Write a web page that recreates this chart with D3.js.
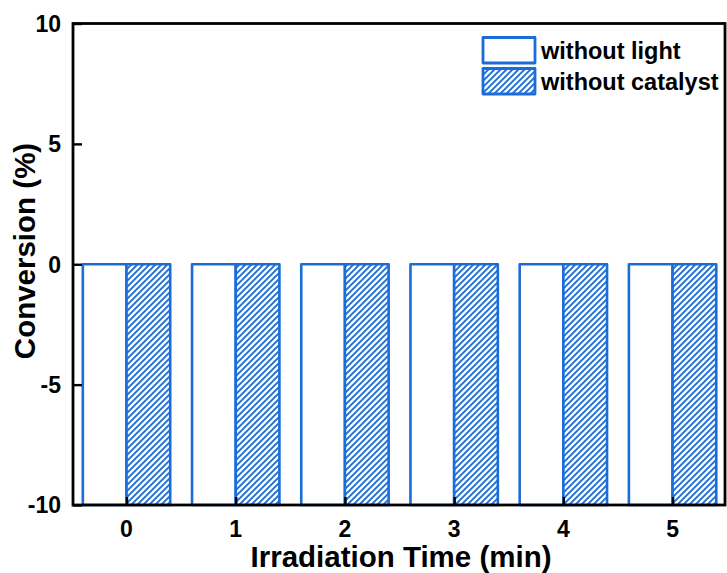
<!DOCTYPE html>
<html>
<head>
<meta charset="utf-8">
<script src="https://cdn.jsdelivr.net/npm/d3@7/dist/d3.min.js"></script>
<style>
  html, body { margin: 0; padding: 0; background: #fff; }
  svg { display: block; }
  text { font-family: "Liberation Sans", Arial, sans-serif; font-weight: bold; fill: #000; }
</style>
</head>
<body>
<svg id="chart" width="727" height="573"></svg>
<script>
// Irradiation times (min) and conversion (%) for the two control experiments
const times = [0, 1, 2, 3, 4, 5];
const withoutLight = [0, 0, 0, 0, 0, 0];
const withoutCatalyst = [0, 0, 0, 0, 0, 0];
const seriesNames = ["without light", "without catalyst"];
const yTicks = [-10, -5, 0, 5, 10];

const blue = "#1c6cd8";
const svg = d3.select("#chart");
const plot = { left: 73, right: 725, top: 23.5, bottom: 505 };

const x = d3.scaleLinear().domain([-0.49, 5.48]).range([plot.left, plot.right]);
const y = d3.scaleLinear().domain([-10, 10]).range([plot.bottom, plot.top]);
const barW = 0.4; // bar width in category units

// diagonal hatch fill
const defs = svg.append("defs");
const pat = defs.append("pattern")
  .attr("id", "hatch")
  .attr("patternUnits", "userSpaceOnUse")
  .attr("width", 6).attr("height", 6);
pat.append("rect").attr("width", 6).attr("height", 6).attr("fill", "#fff");
pat.append("path")
  .attr("d", "M-1.5,1.5 L1.5,-1.5 M0,6 L6,0 M4.5,7.5 L7.5,4.5")
  .attr("stroke", blue).attr("stroke-width", 1.9).attr("fill", "none");

const series = [
  { name: seriesNames[0], values: withoutLight, fill: "#fff", offset: -barW },
  { name: seriesNames[1], values: withoutCatalyst, fill: "url(#hatch)", offset: 0 }
];

// bars rise from the axis minimum to each value
const base = y.domain()[0];
series.forEach(s => {
  svg.append("g").selectAll("rect")
    .data(times)
    .join("rect")
    .attr("x", (t) => x(t + s.offset))
    .attr("width", x(barW) - x(0))
    .attr("y", (t, i) => y(s.values[i]))
    .attr("height", (t, i) => y(base) - y(s.values[i]))
    .attr("fill", s.fill)
    .attr("stroke", blue)
    .attr("stroke-width", 2.6)
    .attr("stroke-linejoin", "round");
});

// axes with inward ticks
const axisColor = "#000";
const yAxis = svg.append("g")
  .attr("transform", `translate(${plot.left},0)`)
  .call(d3.axisRight(y).tickValues(yTicks).tickSize(9).tickFormat(""));
const xAxis = svg.append("g")
  .attr("transform", `translate(0,${plot.bottom})`)
  .call(d3.axisTop(x).tickValues(times).tickSize(8).tickFormat(""));
[yAxis, xAxis].forEach(g => {
  g.select(".domain").remove();
  g.selectAll(".tick line").attr("stroke", axisColor).attr("stroke-width", 2.4);
});

// frame
svg.append("rect")
  .attr("x", plot.left).attr("y", plot.top)
  .attr("width", plot.right - plot.left).attr("height", plot.bottom - plot.top)
  .attr("fill", "none").attr("stroke", axisColor).attr("stroke-width", 2.8);

// tick labels
svg.append("g").selectAll("text")
  .data(yTicks).join("text")
  .attr("x", plot.left - 12)
  .attr("y", d => y(d))
  .attr("dy", "0.36em")
  .attr("text-anchor", "end")
  .attr("font-size", 23)
  .text(d => d);

svg.append("g").selectAll("text")
  .data(times).join("text")
  .attr("x", d => x(d))
  .attr("y", 537)
  .attr("text-anchor", "middle")
  .attr("font-size", 23)
  .text(d => d);

// axis titles
svg.append("text")
  .attr("x", (plot.left + plot.right) / 2 + 2)
  .attr("y", 567)
  .attr("text-anchor", "middle")
  .attr("font-size", 29.5)
  .text("Irradiation Time (min)");

svg.append("text")
  .attr("transform", "translate(35,251) rotate(-90)")
  .attr("text-anchor", "middle")
  .attr("font-size", 29.5)
  .text("Conversion (%)");

// legend
const legend = svg.append("g");
series.forEach((s, i) => {
  const top = 37.5 + i * 31;
  legend.append("rect")
    .attr("x", 483).attr("y", top)
    .attr("width", 52).attr("height", 25.5)
    .attr("fill", s.fill)
    .attr("stroke", blue).attr("stroke-width", 2.8)
    .attr("stroke-linejoin", "round");
  legend.append("text")
    .attr("x", 541).attr("y", top + 21)
    .attr("font-size", 23.5)
    .text(s.name);
});
</script>
</body>
</html>
